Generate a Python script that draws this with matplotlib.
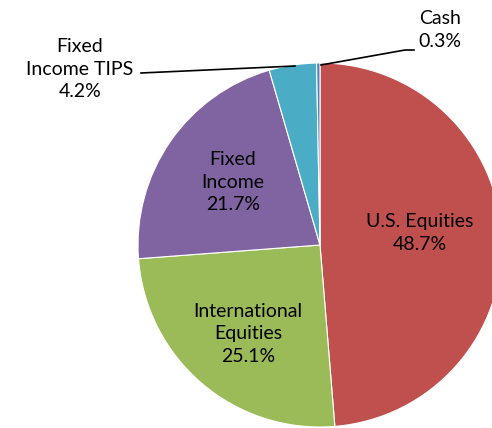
import matplotlib
matplotlib.use("Agg")
import matplotlib.pyplot as plt

# asset allocation, clockwise from the top
labels = ["U.S. Equities", "International\nEquities", "Fixed\nIncome", "Fixed\nIncome TIPS", "Cash"]
shares = [48.7, 25.1, 21.7, 4.2, 0.3]
colors = ["#C0504D", "#9BBB59", "#8064A2", "#4BACC6", "#4F81BD"]

plt.rcParams['font.family'] = ['Lato', 'DejaVu Sans']

fig = plt.figure(figsize=(4.92, 4.28), dpi=100)
ax = fig.add_axes([0, 0, 1, 1])

# work in pixel-like data units
cx, cy, r = 320, 183, 182
wedges, _ = ax.pie(shares, colors=colors, startangle=90, counterclock=False,
                   center=(cx, cy), radius=r,
                   wedgeprops=dict(edgecolor="white", linewidth=0.8))
ax.set_xlim(0, 492)
ax.set_ylim(0, 428)
ax.set_aspect("equal")
ax.axis("off")

fs = 14
ls = 1.4
# labels inside the big slices
ax.text(420, 428 - 233, f"{labels[0]}\n{shares[0]}%", ha="center", va="center",
        fontsize=fs, linespacing=ls)
ax.text(248, 428 - 334, f"{labels[1]}\n{shares[1]}%", ha="center", va="center",
        fontsize=fs, linespacing=ls)
ax.text(233, 428 - 182, f"{labels[2]}\n{shares[2]}%", ha="center", va="center",
        fontsize=fs, linespacing=ls)

# outside labels with leader lines
ax.text(80, 428 - 69, f"{labels[3]}\n{shares[3]}%", ha="center", va="center",
        fontsize=fs, linespacing=ls)
ax.plot([141, 295], [428 - 73, 428 - 66], color="black", lw=1.2)

ax.text(440, 428 - 30, f"{labels[4]}\n{shares[4]}%", ha="center", va="center",
        fontsize=fs, linespacing=ls)
ax.plot([321, 405, 414], [428 - 65, 428 - 50, 428 - 50], color="black", lw=1.2)

fig.savefig("out.png", dpi=100)
